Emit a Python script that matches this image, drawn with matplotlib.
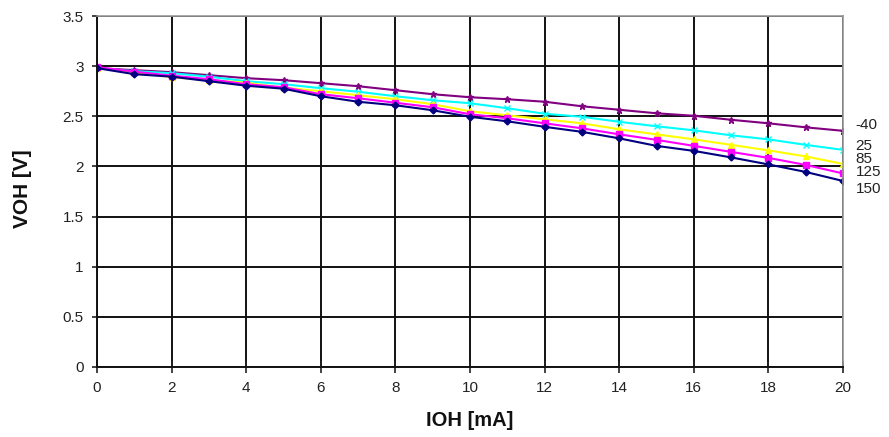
import matplotlib
matplotlib.use("Agg")
import matplotlib.pyplot as plt

plt.rcParams['font.family'] = ['Liberation Sans', 'DejaVu Sans']

ioh = list(range(0, 21))
temps = ["-40", "25", "85", "125", "150"]
v_m40 = [2.98, 2.96, 2.94, 2.91, 2.88, 2.86, 2.83, 2.80, 2.76, 2.72, 2.69,
         2.67, 2.645, 2.60, 2.565, 2.53, 2.505, 2.465, 2.43, 2.39, 2.355]
v_25 = [2.98, 2.95, 2.93, 2.895, 2.85, 2.82, 2.78, 2.745, 2.70, 2.66, 2.63,
        2.58, 2.525, 2.495, 2.445, 2.40, 2.36, 2.31, 2.27, 2.215, 2.165]
v_85 = [2.98, 2.94, 2.89, 2.86, 2.835, 2.785, 2.75, 2.71, 2.67, 2.62, 2.55,
        2.51, 2.47, 2.43, 2.37, 2.32, 2.27, 2.215, 2.16, 2.10, 2.025]
v_125 = [2.99, 2.945, 2.905, 2.87, 2.82, 2.79, 2.72, 2.68, 2.635, 2.59, 2.52,
         2.48, 2.43, 2.38, 2.32, 2.265, 2.205, 2.145, 2.085, 2.015, 1.93]
v_150 = [2.98, 2.92, 2.895, 2.85, 2.805, 2.775, 2.70, 2.645, 2.61, 2.56, 2.495,
         2.45, 2.395, 2.345, 2.28, 2.205, 2.155, 2.09, 2.02, 1.945, 1.855]
series = [v_m40, v_25, v_85, v_125, v_150]

xticks = list(range(0, 21, 2))
yticks = [0, 0.5, 1, 1.5, 2, 2.5, 3, 3.5]

colors = ["#800080", "#00FFFF", "#FFFF00", "#FF00FF", "#000080"]
markers = ["*", "x", "^", "s", "D"]
msizes = [5, 4, 4, 4, 3.5]
label_offsets = [4, 3, 3.6, 1, -6]  # points, vertical offset of end labels

fig = plt.figure(figsize=(8.89, 4.37), dpi=100)
ax = fig.add_axes([97/889, 1-367/437, (843-97)/889, (367-16)/437])

for vals, c, m, ms in zip(series, colors, markers, msizes):
    ax.plot(ioh, vals, color=c, lw=1.5, marker=m, ms=ms, mew=1.0, mec=c, mfc=c)

for name, vals, off in zip(temps, series, label_offsets):
    ax.annotate(name, xy=(ioh[-1], vals[-1]), xytext=(9, off),
                textcoords='offset points', ha='left', va='center',
                fontsize=11, color='#222222', annotation_clip=False)

ax.set_xlim(0, 20)
ax.set_ylim(0, 3.5)
ax.set_xticks(xticks)
ax.set_yticks(yticks)
ax.set_yticklabels([f"{t:g}" for t in yticks])
ax.grid(True, color='#111111', lw=1.4)
ax.set_axisbelow(True)
for s in ['top', 'right']:
    ax.spines[s].set_color('#999999')
    ax.spines[s].set_linewidth(1.2)
for s in ['left', 'bottom']:
    ax.spines[s].set_color('#111111')
    ax.spines[s].set_linewidth(1.4)
ax.tick_params(axis='x', direction='inout', length=8, width=1.2, labelsize=11,
               pad=6, colors='#222222')
ax.tick_params(axis='y', direction='out', length=3.6, width=1.2, labelsize=11,
               pad=6, colors='#222222')

fig.text(470/889, 1-420/437, "IOH [mA]", fontsize=14.5, fontweight='bold',
         ha='center', va='center', color='#111111')
fig.text(22.5/889, 1-189/437, "VOH [V]", fontsize=15, fontweight='bold',
         ha='center', va='center', rotation=90, color='#111111')

fig.savefig("out.png", dpi=100)
